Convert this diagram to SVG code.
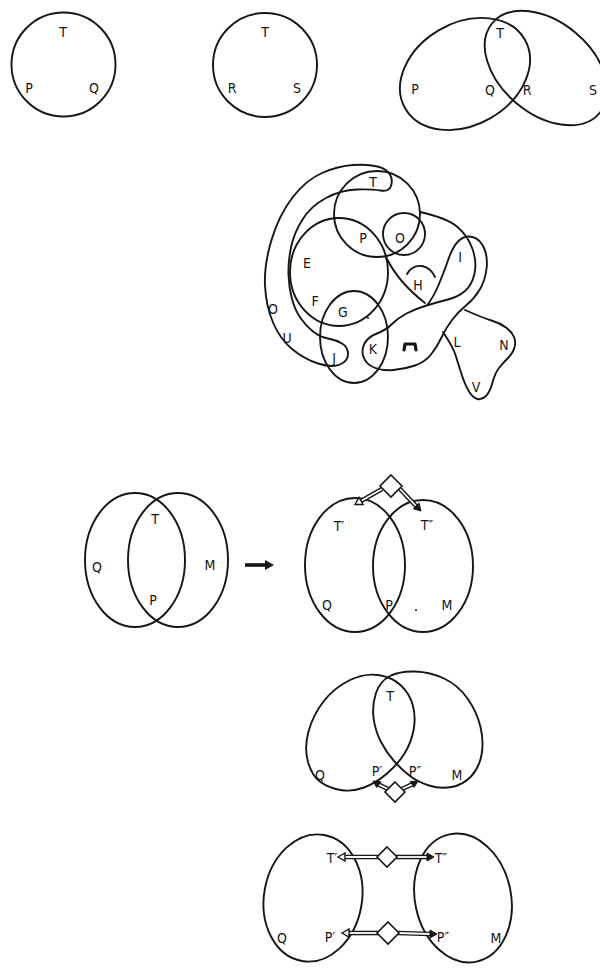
<svg xmlns="http://www.w3.org/2000/svg" width="600" height="979" viewBox="0 0 600 979">
<style>
.c{fill:none;stroke:#161616;stroke-width:1.9;stroke-linecap:round;stroke-linejoin:round}
.t{font-family:"DejaVu Sans Condensed","DejaVu Sans","Liberation Sans",sans-serif;font-size:14px;fill:#161616;text-anchor:middle;dominant-baseline:central}
.dk{fill:none;stroke:#161616;stroke-width:4.6;stroke-linecap:butt}
.dw{fill:none;stroke:#fff;stroke-width:1.8;stroke-linecap:butt}
.dia{fill:#fff;stroke:#161616;stroke-width:1.6}
.ho{fill:#fff;stroke:#161616;stroke-width:1.4}
.hf{fill:#161616;stroke:#161616;stroke-width:1}
</style>
<rect width="600" height="979" fill="#fff"/>

<!-- Figure 1 -->
<g id="fig1">
<circle class="c" cx="63.5" cy="64.5" r="52"/>
<text class="t" x="63" y="32">T</text>
<text class="t" x="29" y="88">P</text>
<text class="t" x="94" y="88">Q</text>
</g>

<!-- Figure 2 -->
<g id="fig2">
<circle class="c" cx="265" cy="65" r="52"/>
<text class="t" x="265" y="32">T</text>
<text class="t" x="232" y="88">R</text>
<text class="t" x="297" y="88">S</text>
</g>

<!-- Figure 3 -->
<g id="fig3">
<ellipse class="c" cx="0" cy="0" rx="69" ry="51" transform="translate(465,74) rotate(-30)"/>
<ellipse class="c" cx="0" cy="0" rx="70" ry="46" transform="translate(546,68) rotate(40)"/>
<text class="t" x="500" y="33">T</text>
<text class="t" x="415" y="89">P</text>
<text class="t" x="490" y="90">Q</text>
<text class="t" x="527" y="90">R</text>
<text class="t" x="593" y="90">S</text>
</g>

<!-- Figure 4: complex map -->
<g id="fig4">
<path id="band" class="c" d="M 391,186 Q 393,180 390,174.5 Q 387,169 377.5,166.5 Q 368,164 353,165 Q 338,166 322,173 Q 306,180 292.5,197.5 Q 279,215 271.5,240 Q 264,265 265,285.5 Q 266,306 273,322.5 Q 280,339 292,349 Q 304,359 318,363.5 Q 332,368 340,364.5 Q 348,361 348,354 Q 348,347 342,343.5 Q 336,340 328,338.5 Q 320,337 313,331.5 Q 306,326 300.5,318 Q 295,310 292,299 Q 289,288 288.5,275 Q 288,262 291,247.5 Q 294,233 302.5,219.5 Q 311,206 326,198 Q 341,190 356.5,189.5 Q 372,189 380.5,190.5 Q 389,192 391,186 Z"/>
<circle id="tp" class="c" cx="377" cy="214" r="43"/>
<ellipse id="e" class="c" cx="339" cy="272" rx="49" ry="54"/>
<circle id="o" class="c" cx="404" cy="234" r="21"/>
<ellipse id="g" class="c" cx="354" cy="337" rx="34" ry="46"/>
<path id="hline" class="c" d="M 386,257 Q 398,282 425,303"/>
<path id="hhook" class="c" d="M 407,274 Q 412,265 422,266 Q 431,268 435,277"/>
<path id="snake" class="c" d="M 420,212 Q 447,218 457.5,227 Q 468,236 472.5,249 Q 477,262 474.5,273.5 Q 472,285 465,291 Q 458,297 448,299.5 Q 438,302 426.5,305.5 Q 415,309 406.5,313.5 Q 398,318 392,324 Q 386,330 377,333.5 Q 368,337 364.5,343.5 Q 361,350 363.5,357 Q 366,364 374,367.5 Q 382,371 393.5,370 Q 405,369 415,365.5 Q 425,362 431,354.5 Q 437,347 441.5,337.5 Q 446,328 452,320 Q 458,312 466,305.5 Q 474,299 479.5,290 Q 485,281 486.5,269 Q 488,257 484,248 Q 480,239 472.5,237 Q 465,235 459,240.5 Q 453,246 448.5,259 Q 444,272 439,284 Q 434,296 428,304"/>
<path id="lnv" class="c" d="M 443,332 Q 453,347 455.5,355 Q 458,363 461.5,374 Q 465,385 469,391.5 Q 473,398 477.5,399 Q 482,400 486,396 Q 490,392 492.5,382.5 Q 495,373 499,368 Q 503,363 508,358 Q 513,353 514.5,347.5 Q 516,342 514,337 Q 512,332 506,327.5 Q 500,323 491.5,320.5 Q 483,318 465,310"/>
<path class="c" d="M 404,350 L 405,344 L 415,344 L 416,350" style="stroke-width:3.2"/>
<circle cx="368" cy="318" r="1" fill="#161616"/>
<text class="t" x="373" y="182">T</text>
<text class="t" x="363" y="238">P</text>
<text class="t" x="400" y="238">O</text>
<text class="t" x="307" y="263">E</text>
<text class="t" x="315" y="301">F</text>
<text class="t" x="343" y="312">G</text>
<text class="t" x="273" y="309">O</text>
<text class="t" x="287" y="338">U</text>
<text class="t" x="334" y="358">J</text>
<text class="t" x="373" y="349">K</text>
<text class="t" x="418" y="285">H</text>
<text class="t" x="460" y="257">I</text>
<text class="t" x="457" y="342">L</text>
<text class="t" x="504" y="345">N</text>
<text class="t" x="476" y="387">V</text>
</g>

<!-- Figure 5 -->
<g id="fig5">
<ellipse class="c" cx="135" cy="560" rx="50" ry="67"/>
<ellipse class="c" cx="178" cy="560" rx="50" ry="67"/>
<text class="t" x="155" y="519">T</text>
<text class="t" x="97" y="567">Q</text>
<text class="t" x="210" y="565">M</text>
<text class="t" x="153" y="600">P</text>
</g>
<g id="arrow5">
<line x1="245" y1="565" x2="267" y2="565" stroke="#161616" stroke-width="3.6"/>
<polygon points="274,565 265,560 265,570" fill="#161616"/>
</g>

<!-- Figure 6 -->
<g id="fig6">
<ellipse class="c" cx="355" cy="565" rx="50" ry="67"/>
<ellipse class="c" cx="423" cy="566" rx="50" ry="66"/>
<text class="t" x="339" y="526">T′</text>
<text class="t" x="427" y="525">T″</text>
<text class="t" x="327" y="605">Q</text>
<text class="t" x="389" y="605">P</text>
<text class="t" x="447" y="605">M</text>
<circle cx="416" cy="610" r="1" fill="#161616"/>
</g>
<g id="conn6">
<path class="dk" d="M 382,489 L 361,501"/><path class="dw" d="M 382,489 L 361,501"/>
<polygon class="ho" points="355,504.5 363.1,504.5 359.1,497.5"/>
<path class="dk" d="M 400,489 L 416,506"/><path class="dw" d="M 400,489 L 416,506"/>
<polygon class="hf" points="421,511 413.3,508.7 419.1,503.1"/>
<polygon class="dia" points="391,475 402,486 391,497 380,486"/>
</g>

<!-- Figure 7 -->
<g id="fig7">
<path class="c" d="M 387,773.5 Q 376,783 364,787.5 Q 352,792 340.5,790 Q 329,788 320.5,782 Q 312,776 308,762 Q 304,748 308.5,731.5 Q 313,715 323.5,701.5 Q 334,688 349,680.5 Q 364,673 378,675 Q 392,677 401,685.5 Q 410,694 413,706 Q 416,718 413.5,730.5 Q 411,743 404.5,753.5 Q 398,764 387,773.5 Z"/>
<path class="c" d="M 410,776 Q 418,782 429,785.5 Q 440,789 451.5,787 Q 463,785 471,776.5 Q 479,768 481.5,755 Q 484,742 480.5,727 Q 477,712 467.5,698.5 Q 458,685 444,678.5 Q 430,672 415,671.5 Q 400,671 390,676 Q 380,681 376,693 Q 372,705 373.5,717.5 Q 375,730 380.5,741 Q 386,752 394,761 Q 402,770 410,776 Z"/>
<text class="t" x="390" y="696">T</text>
<text class="t" x="320" y="775">Q</text>
<text class="t" x="377" y="771">P′</text>
<text class="t" x="415" y="771">P″</text>
<text class="t" x="457" y="775">M</text>
</g>
<g id="conn7">
<path class="dk" d="M 388,789 L 378.8,784.6"/><path class="dw" d="M 388,789 L 378.8,784.6"/>
<polygon class="hf" points="373,781 380.9,781.8 376.7,787.4"/>
<path class="dk" d="M 402,789 L 412.1,784.4"/><path class="dw" d="M 402,789 L 412.1,784.4"/>
<polygon class="hf" points="418,781 414.1,787.3 410.1,781.5"/>
<polygon class="dia" points="395,782 405,792 395,802 385,792"/>
</g>

<!-- Figure 8 -->
<g id="fig8">
<ellipse class="c" cx="0" cy="0" rx="49" ry="64" transform="translate(313,898) rotate(10)"/>
<ellipse class="c" cx="0" cy="0" rx="48" ry="65" transform="translate(463,898) rotate(-12)"/>
<text class="t" x="332" y="858">T′</text>
<text class="t" x="441" y="858">T″</text>
<text class="t" x="282" y="938">Q</text>
<text class="t" x="330" y="937">P′</text>
<text class="t" x="443" y="937">P″</text>
<text class="t" x="496" y="938">M</text>
</g>
<g id="conn8">
<path class="dk" d="M 378,857 L 345,857"/><path class="dw" d="M 378,857 L 345,857"/>
<polygon class="ho" points="338,857 345,853 345,861"/>
<path class="dk" d="M 396,857 L 428,857"/><path class="dw" d="M 396,857 L 428,857"/>
<polygon class="hf" points="434,857 427,853 427,861"/>
<polygon class="dia" points="387,847 397,857 387,867 377,857"/>
<path class="dk" d="M 378,933 L 349,933"/><path class="dw" d="M 378,933 L 349,933"/>
<polygon class="ho" points="342,933 349,929 349,937"/>
<path class="dk" d="M 398,933 L 430,934"/><path class="dw" d="M 398,933 L 430,934"/>
<polygon class="hf" points="437,934 430,930 430,938"/>
<polygon class="dia" points="388,922 399,933 388,944 377,933"/>
</g>
</svg>
